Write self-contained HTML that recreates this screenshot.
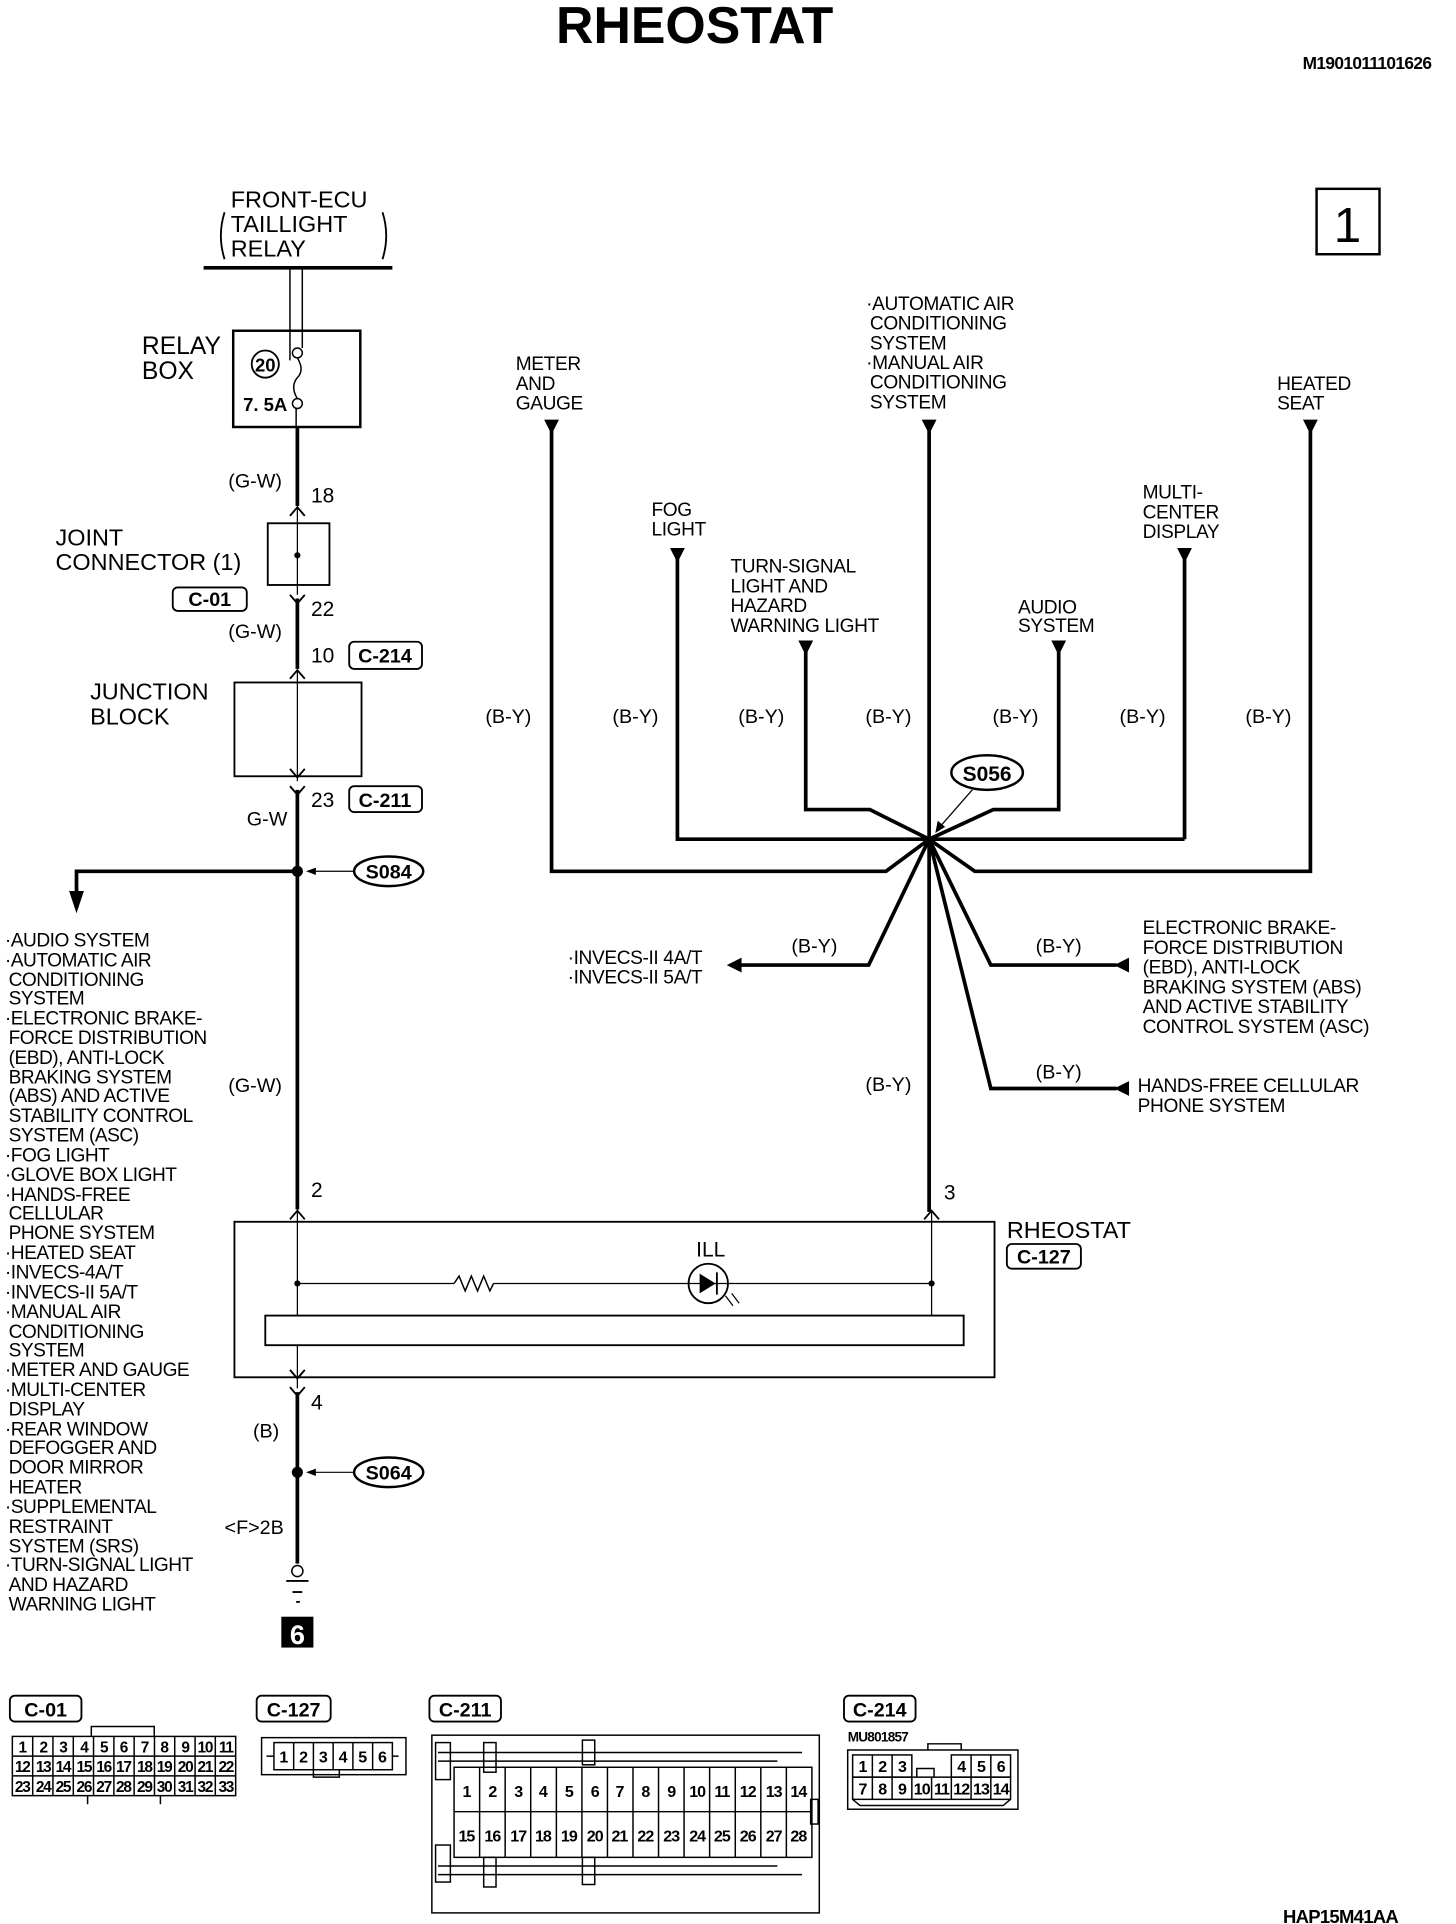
<!DOCTYPE html>
<html><head><meta charset="utf-8"><style>
html,body{margin:0;padding:0;background:#fff}
svg{display:block}
text{font-family:"Liberation Sans",Arial,sans-serif;fill:#000}
.t{font-size:16px}
.b{font-weight:bold}
</style></head><body>
<svg width="1456" height="1924" viewBox="0 0 1180 1559" preserveAspectRatio="none" xmlns="http://www.w3.org/2000/svg">
<text x="563" y="35" font-size="42" font-weight="bold" text-anchor="middle">RHEOSTAT</text>
<text x="1160" y="56" font-size="14" font-weight="bold" text-anchor="end" letter-spacing="-0.5">M1901011101626</text>
<rect x="1067" y="153" width="51" height="53" fill="none" stroke="#000" stroke-width="2"/>
<text x="1092" y="196" font-size="40" text-anchor="middle">1</text>

<!-- Front ECU -->
<text x="187" y="168" font-size="19">FRONT-ECU</text>
<text x="187" y="188" font-size="19">TAILLIGHT</text>
<text x="187" y="208" font-size="19">RELAY</text>
<path d="M182,172 Q176,191 182,210 M310,172 Q316,191 310,210" stroke="#000" fill="none" stroke-width="1.5"/>
<line x1="165" y1="217" x2="318" y2="217" stroke="#000" stroke-width="3"/>
<line x1="235" y1="217" x2="235" y2="292" stroke="#000" stroke-width="1.2"/>
<line x1="245" y1="217" x2="245" y2="282" stroke="#000" stroke-width="1.2"/>

<!-- relay box -->
<rect x="189" y="268" width="103" height="78" fill="none" stroke="#000" stroke-width="2"/>
<text x="115" y="287" font-size="20">RELAY</text>
<text x="115" y="307" font-size="20">BOX</text>
<circle cx="215" cy="295" r="11" fill="none" stroke="#000" stroke-width="1.5"/>
<text x="215" y="301" font-size="15" font-weight="bold" text-anchor="middle">20</text>
<circle cx="241" cy="286" r="4" fill="#fff" stroke="#000" stroke-width="1.2"/>
<circle cx="241" cy="327" r="4" fill="#fff" stroke="#000" stroke-width="1.2"/>
<path d="M241,290 Q247,300 241,306 Q235,313 241,323" fill="none" stroke="#000" stroke-width="1.2"/>
<text x="197" y="333" font-size="15" font-weight="bold">7. 5A</text>
<line x1="240" y1="331" x2="240" y2="346" stroke="#000" stroke-width="1.2"/>

<!-- main left wire -->
<line x1="241" y1="346" x2="241" y2="410" stroke="#000" stroke-width="3"/>
<text x="185" y="395" font-size="16">(G-W)</text>
<text x="252" y="407" font-size="17">18</text>
<path d="M235,418 L241,411 L247,418" fill="none" stroke="#000" stroke-width="1.5"/>
<rect x="217" y="424" width="50" height="50" fill="none" stroke="#000" stroke-width="1.5"/>
<line x1="241" y1="411" x2="241" y2="482" stroke="#000" stroke-width="1"/>
<circle cx="241" cy="450" r="2.5" fill="#000"/>
<text x="45" y="442" font-size="19">JOINT</text>
<text x="45" y="462" font-size="19">CONNECTOR (1)</text>
<rect x="140" y="476" width="60" height="19" rx="4" fill="none" stroke="#000" stroke-width="1.5"/>
<text x="170" y="491" font-size="16" font-weight="bold" text-anchor="middle">C-01</text>
<path d="M235,482 L241,489 L247,482" fill="none" stroke="#000" stroke-width="1.5"/>
<line x1="241" y1="485" x2="241" y2="542" stroke="#000" stroke-width="3"/>
<text x="252" y="499" font-size="17">22</text>
<text x="185" y="517" font-size="16">(G-W)</text>
<text x="252" y="537" font-size="17">10</text>
<rect x="283" y="520" width="59" height="22" rx="4" fill="none" stroke="#000" stroke-width="1.5"/>
<text x="312" y="537" font-size="16" font-weight="bold" text-anchor="middle">C-214</text>
<path d="M235,550 L241,543 L247,550" fill="none" stroke="#000" stroke-width="1.5"/>
<rect x="190" y="553" width="103" height="76" fill="none" stroke="#000" stroke-width="1.5"/>
<line x1="241" y1="543" x2="241" y2="633" stroke="#000" stroke-width="1"/>
<text x="73" y="567" font-size="19">JUNCTION</text>
<text x="73" y="587" font-size="19">BLOCK</text>
<path d="M235,623 L241,630 L247,623" fill="none" stroke="#000" stroke-width="1.5"/>
<path d="M235,637 L241,644 L247,637" fill="none" stroke="#000" stroke-width="1.5"/>
<line x1="241" y1="640" x2="241" y2="980" stroke="#000" stroke-width="3"/>
<text x="252" y="654" font-size="17">23</text>
<rect x="283" y="637" width="59" height="21" rx="4" fill="none" stroke="#000" stroke-width="1.5"/>
<text x="312" y="654" font-size="16" font-weight="bold" text-anchor="middle">C-211</text>
<text x="200" y="669" font-size="16">G-W</text>
<circle cx="241" cy="706" r="4.5" fill="#000"/>
<line x1="250" y1="706" x2="287" y2="706" stroke="#000" stroke-width="1"/>
<path d="M248,706 L256,703 L256,709 Z" fill="#000"/>
<ellipse cx="315" cy="706" rx="28" ry="12" fill="none" stroke="#000" stroke-width="2"/>
<text x="315" y="712" font-size="16" font-weight="bold" text-anchor="middle">S084</text>
<polyline points="241,706 62,706 62,725" fill="none" stroke="#000" stroke-width="3"/>
<path d="M56,722 L68,722 L62,740 Z" fill="#000"/>

<!-- left list -->
<g font-size="15.5" letter-spacing="-0.4">
<text x="4" y="767">·AUDIO SYSTEM</text>
<text x="4" y="783">·AUTOMATIC AIR</text>
<text x="7" y="799">CONDITIONING</text>
<text x="7" y="814">SYSTEM</text>
<text x="4" y="830">·ELECTRONIC BRAKE-</text>
<text x="7" y="846">FORCE DISTRIBUTION</text>
<text x="7" y="862">(EBD), ANTI-LOCK</text>
<text x="7" y="878">BRAKING SYSTEM</text>
<text x="7" y="893">(ABS) AND ACTIVE</text>
<text x="7" y="909">STABILITY CONTROL</text>
<text x="7" y="925">SYSTEM (ASC)</text>
<text x="4" y="941">·FOG LIGHT</text>
<text x="4" y="957">·GLOVE BOX LIGHT</text>
<text x="4" y="973">·HANDS-FREE</text>
<text x="7" y="988">CELLULAR</text>
<text x="7" y="1004">PHONE SYSTEM</text>
<text x="4" y="1020">·HEATED SEAT</text>
<text x="4" y="1036">·INVECS-4A/T</text>
<text x="4" y="1052">·INVECS-II 5A/T</text>
<text x="4" y="1068">·MANUAL AIR</text>
<text x="7" y="1084">CONDITIONING</text>
<text x="7" y="1099">SYSTEM</text>
<text x="4" y="1115">·METER AND GAUGE</text>
<text x="4" y="1131">·MULTI-CENTER</text>
<text x="7" y="1147">DISPLAY</text>
<text x="4" y="1163">·REAR WINDOW</text>
<text x="7" y="1178">DEFOGGER AND</text>
<text x="7" y="1194">DOOR MIRROR</text>
<text x="7" y="1210">HEATER</text>
<text x="4" y="1226">·SUPPLEMENTAL</text>
<text x="7" y="1242">RESTRAINT</text>
<text x="7" y="1258">SYSTEM (SRS)</text>
<text x="4" y="1273">·TURN-SIGNAL LIGHT</text>
<text x="7" y="1289">AND HAZARD</text>
<text x="7" y="1305">WARNING LIGHT</text>
</g>

<text x="185" y="885" font-size="16">(G-W)</text>
<text x="252" y="970" font-size="17">2</text>
<path d="M235,988 L241,981 L247,988" fill="none" stroke="#000" stroke-width="1.5"/>

<!-- rheostat box -->
<rect x="190" y="990" width="616" height="126" fill="none" stroke="#000" stroke-width="1.5"/>
<line x1="241" y1="981" x2="241" y2="1066" stroke="#000" stroke-width="1"/>
<line x1="755" y1="981" x2="755" y2="1066" stroke="#000" stroke-width="1"/>
<path d="M749,988 L755,981 L761,988" fill="none" stroke="#000" stroke-width="1.5"/>
<line x1="241" y1="1040" x2="368" y2="1040" stroke="#000" stroke-width="1"/>
<polyline points="368,1040 372,1034 377,1046 382,1034 387,1046 392,1034 397,1046 400,1040" fill="none" stroke="#000" stroke-width="1.2"/>
<line x1="400" y1="1040" x2="558" y2="1040" stroke="#000" stroke-width="1"/>
<line x1="590" y1="1040" x2="755" y2="1040" stroke="#000" stroke-width="1"/>
<circle cx="241" cy="1040" r="2.5" fill="#000"/>
<circle cx="755" cy="1040" r="2.5" fill="#000"/>
<circle cx="574" cy="1040" r="16" fill="none" stroke="#000" stroke-width="1.5"/>
<line x1="558" y1="1040" x2="590" y2="1040" stroke="#000" stroke-width="1"/>
<path d="M567,1032 L567,1048 L580,1040 Z" fill="#000"/>
<line x1="581" y1="1031" x2="581" y2="1049" stroke="#000" stroke-width="1.5"/>
<line x1="588" y1="1050" x2="594" y2="1058" stroke="#000" stroke-width="1"/>
<line x1="593" y1="1048" x2="599" y2="1056" stroke="#000" stroke-width="1"/>
<text x="576" y="1018" font-size="17" text-anchor="middle">ILL</text>
<rect x="215" y="1066" width="566" height="24" fill="#fff" stroke="#000" stroke-width="1.5"/>
<text x="765" y="972" font-size="17">3</text>
<text x="816" y="1003" font-size="19">RHEOSTAT</text>
<rect x="816" y="1008" width="60" height="20" rx="4" fill="none" stroke="#000" stroke-width="1.5"/>
<text x="846" y="1024" font-size="16" font-weight="bold" text-anchor="middle">C-127</text>

<!-- bottom left -->
<line x1="241" y1="1090" x2="241" y2="1125" stroke="#000" stroke-width="1"/>
<path d="M235,1110 L241,1117 L247,1110" fill="none" stroke="#000" stroke-width="1.5"/>
<path d="M235,1124 L241,1131 L247,1124" fill="none" stroke="#000" stroke-width="1.5"/>
<line x1="241" y1="1128" x2="241" y2="1267" stroke="#000" stroke-width="3"/>
<text x="252" y="1142" font-size="17">4</text>
<text x="205" y="1165" font-size="16">(B)</text>
<circle cx="241" cy="1193" r="4.5" fill="#000"/>
<line x1="250" y1="1193" x2="287" y2="1193" stroke="#000" stroke-width="1"/>
<path d="M248,1193 L256,1190 L256,1196 Z" fill="#000"/>
<ellipse cx="315" cy="1193" rx="28" ry="12" fill="none" stroke="#000" stroke-width="2"/>
<text x="315" y="1199" font-size="16" font-weight="bold" text-anchor="middle">S064</text>
<text x="182" y="1243" font-size="16">&lt;F&gt;2B</text>
<circle cx="241" cy="1273" r="4.5" fill="#fff" stroke="#000" stroke-width="1.2"/>
<line x1="232" y1="1281" x2="250" y2="1281" stroke="#000" stroke-width="1.5"/>
<line x1="237" y1="1290" x2="245" y2="1290" stroke="#000" stroke-width="1.5"/>
<line x1="240" y1="1298" x2="243" y2="1298" stroke="#000" stroke-width="1.5"/>
<rect x="228" y="1310" width="26" height="25" fill="#000"/>
<text x="241" y="1332" font-size="22" font-weight="bold" text-anchor="middle" style="fill:#fff">6</text>

<!-- right harness -->
<g stroke="#000" stroke-width="3" fill="none">
<line x1="753" y1="342" x2="753" y2="982"/>
<polyline points="447,342 447,706 718,706 753,680"/>
<polyline points="1062,342 1062,706 790,706 753,680"/>
<polyline points="549,447 549,680 960,680"/>
<polyline points="960,447 960,680"/>
<polyline points="653,522 653,656 705,656 753,680"/>
<polyline points="858,522 858,656 805,656 753,680"/>
<polyline points="600,782 704,782 753,680"/>
<polyline points="753,680 803,782 905,782"/>
<polyline points="753,680 803,882 905,882"/>
</g>
<g fill="#000">
<path d="M441,340 L453,340 L447,352 Z"/>
<path d="M747,340 L759,340 L753,352 Z"/>
<path d="M1056,340 L1068,340 L1062,352 Z"/>
<path d="M543,444 L555,444 L549,456 Z"/>
<path d="M954,444 L966,444 L960,456 Z"/>
<path d="M647,519 L659,519 L653,531 Z"/>
<path d="M852,519 L864,519 L858,531 Z"/>
<path d="M589,782 L601,776 L601,788 Z"/>
<path d="M903,782 L915,776 L915,788 Z"/>
<path d="M903,882 L915,876 L915,888 Z"/>
</g>
<ellipse cx="800" cy="626" rx="29" ry="14" fill="#fff" stroke="#000" stroke-width="2"/>
<text x="800" y="633" font-size="17" font-weight="bold" text-anchor="middle">S056</text>
<line x1="788" y1="640" x2="760" y2="672" stroke="#000" stroke-width="1"/>
<path d="M758,675 L760,665 L766,670 Z" fill="#000"/>

<g font-size="16" text-anchor="middle">
<text x="412" y="586">(B-Y)</text>
<text x="515" y="586">(B-Y)</text>
<text x="617" y="586">(B-Y)</text>
<text x="720" y="586">(B-Y)</text>
<text x="823" y="586">(B-Y)</text>
<text x="926" y="586">(B-Y)</text>
<text x="1028" y="586">(B-Y)</text>
<text x="660" y="772">(B-Y)</text>
<text x="858" y="772">(B-Y)</text>
<text x="858" y="874">(B-Y)</text>
<text x="720" y="884">(B-Y)</text>
</g>

<g font-size="15.5" letter-spacing="-0.3">
<text x="418" y="300">METER</text>
<text x="418" y="316">AND</text>
<text x="418" y="332">GAUGE</text>
<text x="702" y="251">·AUTOMATIC AIR</text>
<text x="705" y="267">CONDITIONING</text>
<text x="705" y="283">SYSTEM</text>
<text x="702" y="299">·MANUAL AIR</text>
<text x="705" y="315">CONDITIONING</text>
<text x="705" y="331">SYSTEM</text>
<text x="1035" y="316">HEATED</text>
<text x="1035" y="332">SEAT</text>
<text x="528" y="418">FOG</text>
<text x="528" y="434">LIGHT</text>
<text x="926" y="404">MULTI-</text>
<text x="926" y="420">CENTER</text>
<text x="926" y="436">DISPLAY</text>
<text x="592" y="464">TURN-SIGNAL</text>
<text x="592" y="480">LIGHT AND</text>
<text x="592" y="496">HAZARD</text>
<text x="592" y="512">WARNING LIGHT</text>
<text x="825" y="497">AUDIO</text>
<text x="825" y="512">SYSTEM</text>
<text x="460" y="781">·INVECS-II 4A/T</text>
<text x="460" y="797">·INVECS-II 5A/T</text>
<text x="926" y="757">ELECTRONIC BRAKE-</text>
<text x="926" y="773">FORCE DISTRIBUTION</text>
<text x="926" y="789">(EBD), ANTI-LOCK</text>
<text x="926" y="805">BRAKING SYSTEM (ABS)</text>
<text x="926" y="821">AND ACTIVE STABILITY</text>
<text x="926" y="837">CONTROL SYSTEM (ASC)</text>
<text x="922" y="885">HANDS-FREE CELLULAR</text>
<text x="922" y="901">PHONE SYSTEM</text>
</g>

<!-- connector labels -->
<g fill="none" stroke="#000" stroke-width="1.5">
<rect x="8" y="1374" width="58" height="21" rx="4"/>
<rect x="208" y="1374" width="60" height="21" rx="4"/>
<rect x="348" y="1374" width="58" height="21" rx="4"/>
<rect x="684" y="1374" width="58" height="21" rx="4"/>
</g>
<g font-size="16" font-weight="bold" text-anchor="middle">
<text x="37" y="1391">C-01</text>
<text x="238" y="1391">C-127</text>
<text x="377" y="1391">C-211</text>
<text x="713" y="1391">C-214</text>
</g>

<!-- C-01 -->
<g fill="none" stroke="#000" stroke-width="1.2">
<rect x="10" y="1407" width="181" height="48"/>
<path d="M74,1407 L74,1399 L125,1399 L125,1407"/>
<line x1="10" y1="1423" x2="191" y2="1423"/><line x1="10" y1="1439" x2="191" y2="1439"/>
<line x1="26.5" y1="1407" x2="26.5" y2="1455"/><line x1="42.9" y1="1407" x2="42.9" y2="1455"/><line x1="59.4" y1="1407" x2="59.4" y2="1455"/><line x1="75.8" y1="1407" x2="75.8" y2="1455"/><line x1="92.3" y1="1407" x2="92.3" y2="1455"/><line x1="108.7" y1="1407" x2="108.7" y2="1455"/><line x1="125.2" y1="1407" x2="125.2" y2="1455"/><line x1="141.6" y1="1407" x2="141.6" y2="1455"/><line x1="158.1" y1="1407" x2="158.1" y2="1455"/><line x1="174.5" y1="1407" x2="174.5" y2="1455"/>
<path d="M71,1455 L71,1462 M130,1455 L130,1462"/>
</g>
<g font-size="12.5" font-weight="bold" text-anchor="middle" letter-spacing="-1">
<text x="18" y="1420">1</text><text x="35" y="1420">2</text><text x="51" y="1420">3</text><text x="68" y="1420">4</text><text x="84" y="1420">5</text><text x="100" y="1420">6</text><text x="117" y="1420">7</text><text x="133" y="1420">8</text><text x="150" y="1420">9</text><text x="166" y="1420">10</text><text x="183" y="1420">11</text>
<text x="18" y="1436">12</text><text x="35" y="1436">13</text><text x="51" y="1436">14</text><text x="68" y="1436">15</text><text x="84" y="1436">16</text><text x="100" y="1436">17</text><text x="117" y="1436">18</text><text x="133" y="1436">19</text><text x="150" y="1436">20</text><text x="166" y="1436">21</text><text x="183" y="1436">22</text>
<text x="18" y="1452">23</text><text x="35" y="1452">24</text><text x="51" y="1452">25</text><text x="68" y="1452">26</text><text x="84" y="1452">27</text><text x="100" y="1452">28</text><text x="117" y="1452">29</text><text x="133" y="1452">30</text><text x="150" y="1452">31</text><text x="166" y="1452">32</text><text x="183" y="1452">33</text>
</g>

<!-- C-127 -->
<g fill="none" stroke="#000" stroke-width="1.2">
<rect x="212" y="1408" width="117" height="30"/>
<rect x="222" y="1412" width="96" height="22"/>
<line x1="238" y1="1412" x2="238" y2="1434"/><line x1="254" y1="1412" x2="254" y2="1434"/><line x1="270" y1="1412" x2="270" y2="1434"/><line x1="286" y1="1412" x2="286" y2="1434"/><line x1="302" y1="1412" x2="302" y2="1434"/>
<line x1="216" y1="1423" x2="222" y2="1423"/><line x1="318" y1="1423" x2="323" y2="1423"/>
<path d="M254,1434 L254,1440 L275,1440 L275,1434"/>
</g>
<g font-size="13" font-weight="bold" text-anchor="middle">
<text x="230" y="1428">1</text><text x="246" y="1428">2</text><text x="262" y="1428">3</text><text x="278" y="1428">4</text><text x="294" y="1428">5</text><text x="310" y="1428">6</text>
</g>

<!-- C-211 -->
<g fill="none" stroke="#000" stroke-width="1.2">
<rect x="350" y="1406" width="314" height="144"/>
<rect x="368" y="1432" width="290" height="73"/>
<line x1="368" y1="1468" x2="658" y2="1468"/>
<line x1="355" y1="1420" x2="650" y2="1420"/><line x1="355" y1="1427" x2="630" y2="1427"/>
<line x1="355" y1="1512" x2="630" y2="1512"/><line x1="355" y1="1519" x2="650" y2="1519"/>
<rect x="353" y="1412" width="12" height="30"/><rect x="353" y="1495" width="12" height="30"/>
<rect x="392" y="1412" width="10" height="24"/><rect x="392" y="1505" width="10" height="24"/>
<rect x="472" y="1410" width="10" height="20"/><rect x="472" y="1505" width="10" height="22"/>
<rect x="657" y="1458" width="6" height="20"/>
<line x1="388.7" y1="1432" x2="388.7" y2="1505"/><line x1="409.4" y1="1432" x2="409.4" y2="1505"/><line x1="430.1" y1="1432" x2="430.1" y2="1505"/><line x1="450.9" y1="1432" x2="450.9" y2="1505"/><line x1="471.6" y1="1432" x2="471.6" y2="1505"/><line x1="492.3" y1="1432" x2="492.3" y2="1505"/><line x1="513" y1="1432" x2="513" y2="1505"/><line x1="533.7" y1="1432" x2="533.7" y2="1505"/><line x1="554.4" y1="1432" x2="554.4" y2="1505"/><line x1="575.1" y1="1432" x2="575.1" y2="1505"/><line x1="595.9" y1="1432" x2="595.9" y2="1505"/><line x1="616.6" y1="1432" x2="616.6" y2="1505"/><line x1="637.3" y1="1432" x2="637.3" y2="1505"/>
</g>
<g font-size="13" font-weight="bold" text-anchor="middle" letter-spacing="-0.8">
<text x="378" y="1456">1</text><text x="399" y="1456">2</text><text x="420" y="1456">3</text><text x="440" y="1456">4</text><text x="461" y="1456">5</text><text x="482" y="1456">6</text><text x="502" y="1456">7</text><text x="523" y="1456">8</text><text x="544" y="1456">9</text><text x="565" y="1456">10</text><text x="585" y="1456">11</text><text x="606" y="1456">12</text><text x="627" y="1456">13</text><text x="647" y="1456">14</text>
<text x="378" y="1492">15</text><text x="399" y="1492">16</text><text x="420" y="1492">17</text><text x="440" y="1492">18</text><text x="461" y="1492">19</text><text x="482" y="1492">20</text><text x="502" y="1492">21</text><text x="523" y="1492">22</text><text x="544" y="1492">23</text><text x="565" y="1492">24</text><text x="585" y="1492">25</text><text x="606" y="1492">26</text><text x="627" y="1492">27</text><text x="647" y="1492">28</text>
</g>

<!-- C-214 -->
<text x="687" y="1411" font-size="11" font-weight="bold" letter-spacing="-0.6">MU801857</text>
<g fill="none" stroke="#000" stroke-width="1.2">
<rect x="687" y="1418" width="138" height="48"/>
<path d="M752,1418 L752,1413 L779,1413 L779,1418"/>
<rect x="691" y="1422" width="48" height="18"/><line x1="707" y1="1422" x2="707" y2="1440"/><line x1="723" y1="1422" x2="723" y2="1440"/>
<rect x="771" y="1422" width="48" height="18"/><line x1="787" y1="1422" x2="787" y2="1440"/><line x1="803" y1="1422" x2="803" y2="1440"/>
<rect x="691" y="1440" width="128" height="18"/>
<line x1="707" y1="1440" x2="707" y2="1458"/><line x1="723" y1="1440" x2="723" y2="1458"/><line x1="739" y1="1440" x2="739" y2="1458"/><line x1="755" y1="1440" x2="755" y2="1458"/><line x1="771" y1="1440" x2="771" y2="1458"/><line x1="787" y1="1440" x2="787" y2="1458"/><line x1="803" y1="1440" x2="803" y2="1458"/>
<path d="M743,1440 L743,1433 L757,1433 L757,1440"/>
<path d="M691,1458 L697,1463 L813,1463 L819,1458"/>
</g>
<g font-size="13" font-weight="bold" text-anchor="middle" letter-spacing="-0.8">
<text x="699" y="1436">1</text><text x="715" y="1436">2</text><text x="731" y="1436">3</text><text x="779" y="1436">4</text><text x="795" y="1436">5</text><text x="811" y="1436">6</text>
<text x="699" y="1454">7</text><text x="715" y="1454">8</text><text x="731" y="1454">9</text><text x="747" y="1454">10</text><text x="763" y="1454">11</text><text x="779" y="1454">12</text><text x="795" y="1454">13</text><text x="811" y="1454">14</text>
</g>

<text x="1133" y="1558" font-size="15" font-weight="bold" text-anchor="end" letter-spacing="-0.6">HAP15M41AA</text>
</svg>
</body></html>
